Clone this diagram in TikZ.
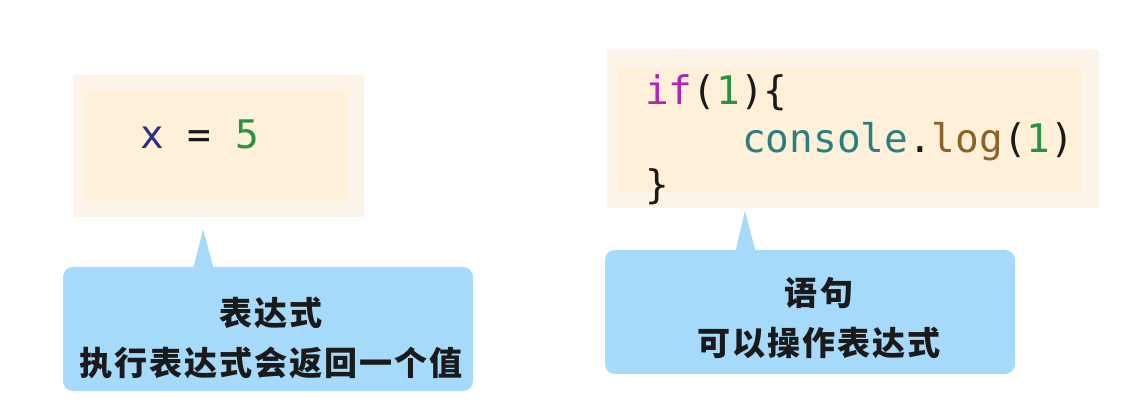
\documentclass[tikz,border=0pt]{standalone}
\usepackage{fontspec}
\usetikzlibrary{fit}
\newfontfamily\codefont{DejaVu Sans Mono}
\newfontfamily\cjk[LetterSpace=6]{Noto Sans CJK SC}
\definecolor{beigeout}{HTML}{FDF4E9}
\definecolor{beigein}{HTML}{FEF0D9}
\definecolor{noteblue}{HTML}{A6DAFB}
\definecolor{inkblack}{HTML}{1A1A1A}
\definecolor{kwpink}{HTML}{B424B4}
\definecolor{numgreen}{HTML}{2A9242}
\definecolor{varnavy}{HTML}{2B2D7E}
\definecolor{objteal}{HTML}{2C7F80}
\definecolor{fnbrown}{HTML}{8B6424}
\tikzstyle{codeout} = [rectangle, inner sep=0pt, fill=beigeout]
\tikzstyle{codein} = [rectangle, inner sep=0pt, fill=beigein]
\tikzstyle{code} = [inner sep=0pt, anchor=base west, text=inkblack, font=\codefont\fontsize{28}{34}\selectfont]
\tikzstyle{note} = [rectangle, rounded corners=7pt, inner sep=0pt, fill=noteblue]
\tikzstyle{notetext} = [inner sep=0pt, align=center, text=inkblack, font=\cjk\bfseries\fontsize{23.5}{35.5}\selectfont]

\begin{document}
\begin{tikzpicture}[x=0.025cm, y=-0.025cm]
\useasboundingbox (0,0) rectangle (1142,418);
% left: expression
\node (c1) [codeout, fit={(73,75) (364,217)}] {};
\node (c1in) [codein, fit={(85,92) (347,201)}] {};
\node (e1) [code] at (140,149) {\textcolor{varnavy}{x} = \textcolor{numgreen}{5}};
\node (n1) [note, fit={(63,267) (473,391)}] {};
\coordinate (t1) at (203,229);
\fill [noteblue] (t1) -- (214,270) -- (193,270) -- cycle;
\node (n1txt) [notetext] at (271,338) {表达式\\执行表达式会返回一个值};
% right: statement
\node (c2) [codeout, fit={(607,50) (1099,208)}] {};
\node (c2in) [codein, fit={(618,68) (1082,192)}] {};
\node (s1) [code] at (645,105) {\textcolor{kwpink}{if}(\textcolor{numgreen}{1})\{};
\node (s2) [code] at (742,153) {\textcolor{objteal}{console}.\textcolor{fnbrown}{log}(\textcolor{numgreen}{1})};
\node (s3) [code] at (645,199) {\}};
\node (n2) [note, fit={(605,250) (1015,374)}] {};
\coordinate (t2) at (745,211);
\fill [noteblue] (t2) -- (756,253) -- (735,253) -- cycle;
\node (n2txt) [notetext] at (819,318) {语句\\可以操作表达式};
\end{tikzpicture}
\end{document}
